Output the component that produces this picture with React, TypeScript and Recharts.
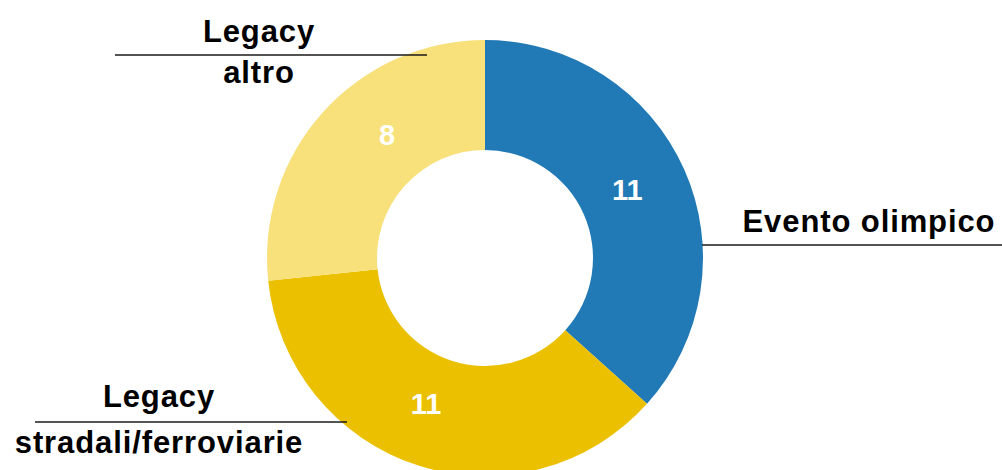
import { Cell, Pie, PieChart } from 'recharts'

const categories = ['Evento olimpico', 'Legacy stradali/ferroviarie', 'Legacy altro']
const values = [11, 11, 8]
const labelRows = [['Evento olimpico'], ['Legacy', 'stradali/ferroviarie'], ['Legacy', 'altro']]
const colors = ['#2179b5', '#ebc001', '#f8e07a']

// where the leader lines and texts sit, relative to the pie centre (px)
const outerLayout = [
  { lineDy: -13, x1: 217, x2: 540, textDx: 384, above: -13, below: 0 },
  { lineDy: 164, x1: -450, x2: -138, textDx: -326, above: -15, below: 31 },
  { lineDy: -203, x1: -370, x2: -58, textDx: -226, above: -13, below: 28 },
]
// nudge of the value labels away from the slice mid angle (deg)
const innerAngleShift = [1.4, -4, -9.6]

const RAD = Math.PI / 180
const font = '"Liberation Sans", Arial, Helvetica, sans-serif'

const data = categories.map((name, i) => ({ name, value: values[i] }))

function renderLabel(props: any) {
  const { cx, cy, midAngle, innerRadius, outerRadius, index } = props
  const r = innerRadius + (outerRadius - innerRadius) * 0.45
  const a = (midAngle + innerAngleShift[index]) * RAD
  const vx = cx + r * Math.cos(a)
  const vy = cy - r * Math.sin(a)
  const lay = outerLayout[index]
  const rows = labelRows[index]
  const ly = cy + lay.lineDy
  const tx = cx + lay.textDx
  const textProps = {
    fill: '#000',
    fontSize: 31,
    fontWeight: 700,
    fontFamily: font,
    textAnchor: 'middle' as const,
    letterSpacing: 0.9,
  }
  return (
    <g key={`lbl-${index}`}>
      <text
        x={vx}
        y={vy}
        fill="#fff"
        fontSize={29}
        fontWeight={700}
        fontFamily={font}
        textAnchor="middle"
        dominantBaseline="central"
      >
        {values[index]}
      </text>
      <line x1={cx + lay.x1} x2={cx + lay.x2} y1={ly} y2={ly} stroke="#1a1a1a" strokeWidth={1.5} />
      <text x={tx} y={ly + lay.above} {...textProps}>
        {rows[0]}
      </text>
      {rows[1] && (
        <text x={tx} y={ly + lay.below} {...textProps}>
          {rows[1]}
        </text>
      )}
    </g>
  )
}

export default function App() {
  return (
    <div style={{ width: 1002, height: 470, background: '#fff' }}>
      <style>{'body{margin:0}'}</style>
      <PieChart width={1002} height={470} margin={{ top: 0, right: 0, bottom: 0, left: 0 }}>
        <Pie
          data={data}
          dataKey="value"
          nameKey="name"
          cx={485}
          cy={258}
          innerRadius={108}
          outerRadius={218}
          startAngle={90}
          endAngle={-270}
          stroke="none"
          label={renderLabel}
          labelLine={false}
          isAnimationActive={false}
        >
          {data.map((d, i) => (
            <Cell key={d.name} fill={colors[i]} />
          ))}
        </Pie>
      </PieChart>
    </div>
  )
}
